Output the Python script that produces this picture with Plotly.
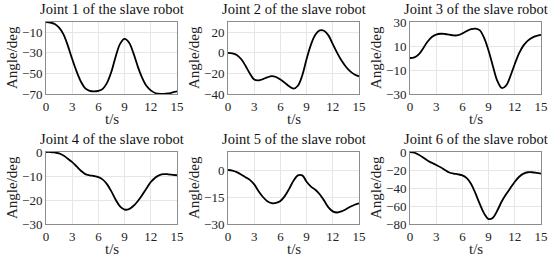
import plotly.graph_objects as go

t = [i * 0.5 for i in range(31)]

joint1 = [0, -0.5, -2, -5.5, -12, -23, -36, -48, -58, -64.5, -67, -67.5, -67, -65, -59, -48,
          -33, -21, -16.5, -20, -30, -43, -54, -62, -66.5, -69, -69.8, -70, -69.5, -68.5, -67.5]
joint2 = [0, -0.5, -2, -6, -12.5, -20, -26, -26.8, -25.5, -23.8, -22.6, -23.5, -26, -29, -32.5, -34.8,
          -32, -22, -6, 8, 17.5, 21.8, 21.5, 17, 8.5, 0, -7.5, -13.5, -18, -21, -22.8]
joint3 = [0, 0.5, 3, 8, 13.5, 17.5, 19.5, 20.2, 20, 19.4, 18.8, 19, 20.5, 22.5, 24, 24.5,
          23, 16.5, 6, -7, -19, -25, -23, -15, -5, 4, 10.5, 14.5, 17, 18.5, 19.3]
joint4 = [0, 0, -0.2, -0.6, -1.5, -2.8, -4.2, -6, -7.8, -9.2, -9.7, -10, -10.5, -11.5, -13.5, -16.5,
          -20, -22.8, -24, -23.8, -22.5, -20.5, -18, -15.2, -12.5, -10.7, -9.6, -9.2, -9.3, -9.5, -9.7]
joint5 = [0, -0.4, -1.2, -2.5, -4, -5.5, -8, -11.8, -15, -17.3, -18.4, -18.3, -17.2, -14.5, -10.5, -6,
          -3, -3, -6.5, -9.2, -11, -13.5, -17, -20.8, -23, -23.6, -23, -21.8, -20.4, -19.3, -18.5]
joint6 = [0, -0.8, -3, -6, -9.5, -12, -14.5, -17, -20, -22.8, -24, -24.8, -26, -29, -35.5, -46,
          -58, -68.5, -74.5, -73, -65, -55, -47, -40, -33, -27.5, -24, -22.5, -22.5, -23.2, -24]

series = [joint1, joint2, joint3, joint4, joint5, joint6]
titles = [f"Joint {i} of the slave robot" for i in range(1, 7)]
y_ranges = [[-70, 0], [-40, 30], [-30, 30], [-30, 0], [-30, 10], [-80, 0]]
y_ticks = [[-70, -50, -30, -10], [-40, -20, 0, 20], [-30, -10, 10, 30],
           [-30, -20, -10, 0], [-30, -15, 0], [-80, -60, -40, -20, 0]]
x_ticks = [0, 3, 6, 9, 12, 15]

W, H = 550, 259
x_px = [(46, 177), (228, 359), (410, 541)]
y_px = [(22, 94), (152, 224)]

FONT = "Liberation Serif"
fig = go.Figure()
annotations = []
for k in range(6):
    r, c = divmod(k, 3)
    idx = "" if k == 0 else str(k + 1)
    x0, x1 = x_px[c]
    yt, yb = y_px[r]
    xd = [x0 / W, x1 / W]
    yd = [(H - yb) / H, (H - yt) / H]
    fig.add_trace(go.Scatter(x=t, y=series[k], mode="lines", line=dict(color="black", width=1.8, shape="spline"),
                             xaxis="x" + idx, yaxis="y" + idx, showlegend=False, hoverinfo="skip"))
    fig.update_layout(**{
        "xaxis" + idx: dict(domain=xd, range=[0, 15], tickvals=x_ticks, anchor="y" + idx,
                            showgrid=True, gridcolor="#e6e6e6", gridwidth=1, zeroline=False,
                            showline=True, linecolor="#8c8c8c", linewidth=1, mirror=True,
                            ticks="", ticklen=0, automargin=False,
                            tickfont=dict(family=FONT, size=13, color="#222")),
        "yaxis" + idx: dict(domain=yd, range=y_ranges[k], tickvals=y_ticks[k], anchor="x" + idx,
                            showgrid=True, gridcolor="#e6e6e6", gridwidth=1, zeroline=False,
                            showline=True, linecolor="#8c8c8c", linewidth=1, mirror=True,
                            ticks="", automargin=False,
                            tickfont=dict(family=FONT, size=13, color="#222")),
    })
    annotations.append(dict(text=titles[k], x=(xd[0] + xd[1]) / 2, y=(H - (yt - 13)) / H,
                            xref="paper", yref="paper", showarrow=False, xanchor="center", yanchor="middle",
                            font=dict(family=FONT, size=14.5, color="#111")))
    annotations.append(dict(text="Angle/deg", x=(x0 - 34) / W, y=(yd[0] + yd[1]) / 2, textangle=-90,
                            xref="paper", yref="paper", showarrow=False, xanchor="center", yanchor="middle",
                            font=dict(family=FONT, size=15, color="#222")))
    annotations.append(dict(text="t/s", x=(xd[0] + xd[1]) / 2, y=(H - (yb + 25)) / H,
                            xref="paper", yref="paper", showarrow=False, xanchor="center", yanchor="middle",
                            font=dict(family=FONT, size=15, color="#222")))

fig.update_layout(width=W, height=H, margin=dict(l=0, r=0, t=0, b=0, autoexpand=False),
                  plot_bgcolor="white", paper_bgcolor="white", annotations=annotations)
fig.write_html("out.html", config={"displayModeBar": False},
               post_script="document.body.style.margin='0px';document.body.style.padding='0px';")
